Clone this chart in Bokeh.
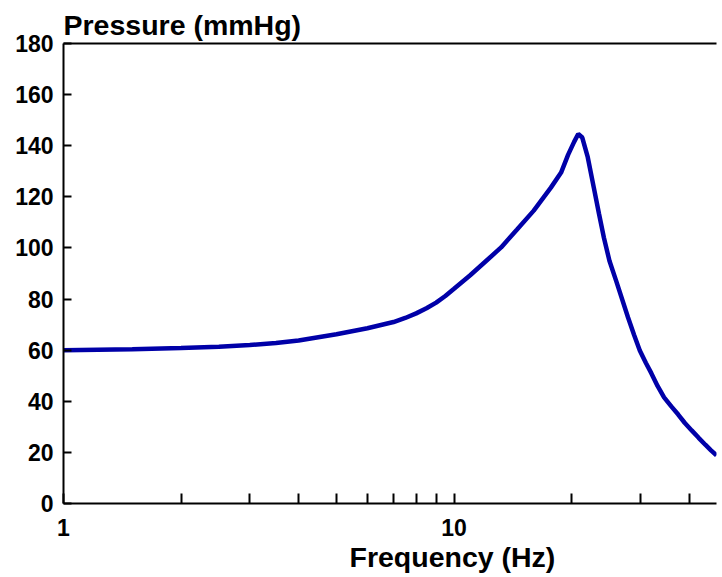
from bokeh.plotting import figure
from bokeh.models import Range1d, FixedTicker, LogAxis, Title
from bokeh.embed import file_html
from bokeh.resources import INLINE

# Data
freq_hz = [1.0, 1.5, 2.0, 2.5, 3.0, 3.5, 4.0, 5.0, 6.0, 7.0, 7.5, 8.0, 8.5, 9.0,
           9.5, 10.0, 11.0, 12.0, 13.2, 14.5, 16.0, 17.7, 18.8, 19.6, 20.3,
           20.8, 21.3, 22.0, 22.8, 23.5, 24.2, 25.0, 26.0, 27.9, 28.9, 29.9,
           31.0, 32.0, 33.2, 34.5, 36.0, 37.5, 39.0, 40.6, 42.3, 44.0, 45.5, 47.0]
pressure_mmhg = [60.0, 60.4, 60.8, 61.3, 62.0, 62.8, 63.8, 66.2, 68.6, 71.0, 72.6,
                 74.4, 76.4, 78.6, 81.2, 84.0, 89.3, 94.5, 100.2, 107.2, 114.6,
                 123.6, 129.5, 136.5, 141.5, 144.6, 143.2, 135.5, 123.6, 113.5,
                 104.0, 95.0, 87.2, 72.8, 66.0, 59.9, 55.0, 51.0, 46.0, 41.5,
                 38.0, 34.8, 31.5, 28.6, 25.7, 23.0, 20.8, 18.8]

x_ticks = [1, 2, 3, 4, 5, 6, 7, 8, 9, 10, 20, 30, 40]
x_tick_labels = {1: "1", 10: "10"}
y_ticks = [0, 20, 40, 60, 80, 100, 120, 140, 160, 180]

title_text = "Pressure (mmHg)"
xlabel_text = "Frequency (Hz)"

FONT = "Liberation Sans"

p = figure(width=720, height=575, x_axis_type="log",
           x_range=Range1d(1, 47), y_range=Range1d(0, 180),
           output_backend="svg", toolbar_location=None,
           min_border_left=63, min_border_right=4,
           min_border_top=43, min_border_bottom=72)
p.outline_line_color = None
p.grid.grid_line_color = None
p.background_fill_color = "white"
p.border_fill_color = "white"

p.line(freq_hz, pressure_mmhg, line_color="#0000a8", line_width=4.5)

# X axis
xa = p.xaxis[0]
xa.ticker = FixedTicker(ticks=x_ticks)
xa.major_label_overrides = {t: x_tick_labels.get(t, "") for t in x_ticks}
xa.major_tick_in = 10
xa.major_tick_out = 0
xa.minor_tick_line_color = None
xa.axis_line_width = 2
xa.major_tick_line_width = 2
xa.major_label_text_font = FONT
xa.major_label_text_font_style = "bold"
xa.major_label_text_font_size = "23px"
xa.major_label_text_color = "black"
xa.major_label_standoff = 15

# Y axis
ya = p.yaxis[0]
ya.ticker = FixedTicker(ticks=y_ticks)
ya.major_tick_in = 8
ya.major_tick_out = 0
ya.minor_tick_line_color = None
ya.axis_line_width = 2
ya.major_tick_line_width = 2
ya.major_label_text_font = FONT
ya.major_label_text_font_style = "bold"
ya.major_label_text_font_size = "23px"
ya.major_label_text_color = "black"
ya.major_label_standoff = 10

# Top frame line
top = LogAxis(ticker=FixedTicker(ticks=[]), axis_line_width=2,
              major_label_text_font_size="0px", major_label_standoff=0,
              major_tick_line_color=None, minor_tick_line_color=None)
p.add_layout(top, "above")

# Title (top-left) and x-axis label (placed under x = 10)
p.title = Title(text=title_text, align="left", standoff=5,
                text_font=FONT, text_font_style="bold",
                text_font_size="28.5px", text_color="black")
p.add_layout(Title(text=xlabel_text, align="left", offset=286, standoff=0,
                   text_font=FONT, text_font_style="bold",
                   text_font_size="28.5px", text_color="black"), "below")

open("out.html", "w").write(file_html(p, INLINE))
